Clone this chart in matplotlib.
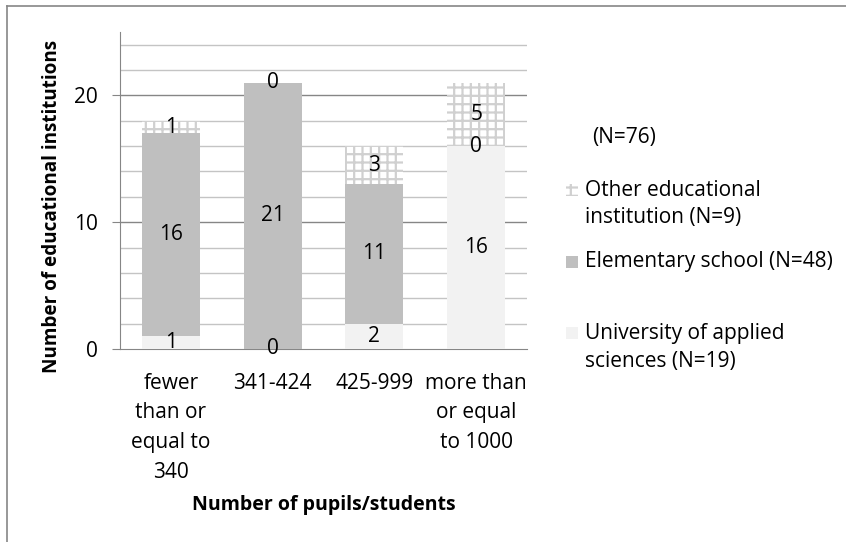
import matplotlib.pyplot as plt
import numpy as np
from matplotlib.patches import Rectangle
from matplotlib.lines import Line2D

plt.rcParams['font.family'] = ['Open Sans', 'DejaVu Sans']
plt.rcParams['hatch.linewidth'] = 1.6

categories = ['fewer\nthan or\nequal to\n340', '341-424', '425-999',
              'more than\nor equal\nto 1000']
university = [1, 0, 2, 16]
elementary = [16, 21, 11, 0]
other = [1, 0, 3, 5]

series_labels = [['Other educational', 'institution (N=9)'],
                 ['Elementary school (N=48)'],
                 ['University of applied', 'sciences (N=19)']]
total_label = '(N=76)'

c_univ = '#F2F2F2'
c_elem = '#BFBFBF'
c_hatch = '#D0D0D0'
c_axis = '#868686'
fs = 15
fs_title = 14

W, H = 846, 542
fig = plt.figure(figsize=(W / 100, H / 100), dpi=100)
ax = fig.add_axes([120 / W, 1 - 349 / H, 407 / W, 317 / H])

x = np.arange(len(categories))
width = 0.57
univ = np.array(university)
elem = np.array(elementary)
oth = np.array(other)

ax.bar(x, univ, width, color=c_univ, linewidth=0, zorder=3)
ax.bar(x, elem, width, bottom=univ, color=c_elem, linewidth=0, zorder=3)
ax.bar(x, oth, width, bottom=univ + elem, color='white', edgecolor=c_hatch,
       hatch='++', linewidth=0, zorder=3)

# value labels centred in each segment (zeros sit on the boundary)
for vals, base in [(univ, 0 * univ), (elem, univ), (oth, univ + elem)]:
    for xi, v, b in zip(x, vals, base):
        ax.text(xi, b + v / 2, str(v), ha='center', va='center',
                fontsize=fs, zorder=5)

ax.set_xlim(-0.5, 3.5)
ax.set_ylim(0, 25)
ax.set_yticks([0, 10, 20])
minor = [v for v in range(2, 25, 2) if v % 10]
for v in minor:
    ax.axhline(v, color='#C4C4C4', lw=1, zorder=1)
for v in [10, 20]:
    ax.axhline(v, color=c_axis, lw=1, zorder=1)

ax.set_xticks(x)
ax.set_xticklabels(categories, fontsize=fs, linespacing=1.55)
ax.tick_params(axis='x', length=0, pad=17)
ax.tick_params(axis='y', length=6, color=c_axis, labelsize=fs, pad=10)

for s in ['top', 'right']:
    ax.spines[s].set_visible(False)
for s in ['left', 'bottom']:
    ax.spines[s].set_color(c_axis)

ax.set_ylabel('Number of educational institutions', fontsize=13.6,
              fontweight='bold')
ax.yaxis.set_label_coords(-0.142, 0.451)
ax.set_xlabel('Number of pupils/students', fontsize=fs_title,
              fontweight='bold')
ax.xaxis.set_label_coords(0.5, -0.462)

# legend, placed by hand
def fx(px):
    return px / W


def fy(py):
    return 1 - py / H


fig.text(fx(592), fy(137), total_label, fontsize=fs, va='center')
legend_rows = [
    ([190, 218], dict(facecolor='white', edgecolor=c_hatch, hatch='++',
                      linewidth=0)),
    ([262], dict(facecolor=c_elem, linewidth=0)),
    ([333, 362], dict(facecolor=c_univ, linewidth=0)),
]
for (rows, style), lines in zip(legend_rows, series_labels):
    fig.patches.append(Rectangle((fx(566), fy(rows[0] + 6)), 12 / W, 12 / H,
                                 transform=fig.transFigure, **style))
    for py, line in zip(rows, lines):
        fig.text(fx(585), fy(py), line, fontsize=fs, va='center')

# outer frame lines
fig.add_artist(Line2D([fx(7), 1], [fy(6), fy(6)], color=c_axis, lw=1.2))
fig.add_artist(Line2D([fx(7), fx(7)], [0, fy(6)], color=c_axis, lw=1.2))

fig.savefig('out.png', dpi=100)
